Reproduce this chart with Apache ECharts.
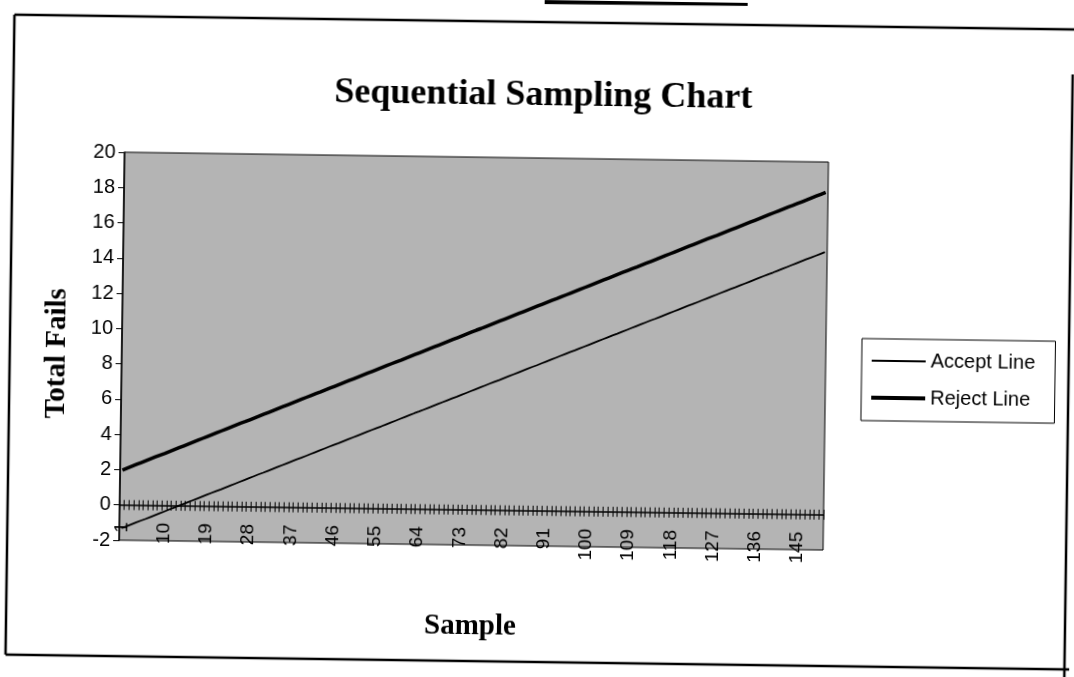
<!DOCTYPE html>
<html>
<head>
<meta charset="utf-8">
<title>Sequential Sampling Chart</title>
<script src="https://cdn.jsdelivr.net/npm/echarts@6/dist/echarts.min.js"></script>
<style>
  html, body { margin: 0; padding: 0; background: #fff; overflow: hidden; }
  /* the scanned page sits slightly turned */
  #chart { width: 1074px; height: 677px; transform: rotate(0.8deg); transform-origin: 537px 338px; }
</style>
</head>
<body>
<div id="chart"></div>
<script>
// sample numbers on the x axis
const samples = [
  1, 2, 3, 4, 5, 6, 7, 8, 9, 10, 11, 12, 13, 14, 15, 16, 17, 18, 19, 20,
  21, 22, 23, 24, 25, 26, 27, 28, 29, 30, 31, 32, 33, 34, 35, 36, 37, 38, 39, 40,
  41, 42, 43, 44, 45, 46, 47, 48, 49, 50, 51, 52, 53, 54, 55, 56, 57, 58, 59, 60,
  61, 62, 63, 64, 65, 66, 67, 68, 69, 70, 71, 72, 73, 74, 75, 76, 77, 78, 79, 80,
  81, 82, 83, 84, 85, 86, 87, 88, 89, 90, 91, 92, 93, 94, 95, 96, 97, 98, 99, 100,
  101, 102, 103, 104, 105, 106, 107, 108, 109, 110, 111, 112, 113, 114, 115, 116, 117, 118, 119, 120,
  121, 122, 123, 124, 125, 126, 127, 128, 129, 130, 131, 132, 133, 134, 135, 136, 137, 138, 139, 140,
  141, 142, 143, 144, 145, 146, 147, 148, 149, 150
];

// accept line
const acceptLine = [
  -1.32, -1.21, -1.10, -0.99, -0.88, -0.78, -0.67, -0.56, -0.45, -0.34,
  -0.23, -0.12, -0.01, 0.09, 0.20, 0.31, 0.42, 0.53, 0.64, 0.75,
  0.86, 0.96, 1.07, 1.18, 1.29, 1.40, 1.51, 1.62, 1.73, 1.84,
  1.94, 2.05, 2.16, 2.27, 2.38, 2.49, 2.60, 2.71, 2.81, 2.92,
  3.03, 3.14, 3.25, 3.36, 3.47, 3.58, 3.68, 3.79, 3.90, 4.01,
  4.12, 4.23, 4.34, 4.45, 4.56, 4.66, 4.77, 4.88, 4.99, 5.10,
  5.21, 5.32, 5.43, 5.53, 5.64, 5.75, 5.86, 5.97, 6.08, 6.19,
  6.30, 6.40, 6.51, 6.62, 6.73, 6.84, 6.95, 7.06, 7.17, 7.28,
  7.38, 7.49, 7.60, 7.71, 7.82, 7.93, 8.04, 8.15, 8.25, 8.36,
  8.47, 8.58, 8.69, 8.80, 8.91, 9.02, 9.12, 9.23, 9.34, 9.45,
  9.56, 9.67, 9.78, 9.89, 10.00, 10.10, 10.21, 10.32, 10.43, 10.54,
  10.65, 10.76, 10.87, 10.97, 11.08, 11.19, 11.30, 11.41, 11.52, 11.63,
  11.74, 11.84, 11.95, 12.06, 12.17, 12.28, 12.39, 12.50, 12.61, 12.72,
  12.82, 12.93, 13.04, 13.15, 13.26, 13.37, 13.48, 13.59, 13.69, 13.80,
  13.91, 14.02, 14.13, 14.24, 14.35, 14.46, 14.56, 14.67, 14.78, 14.89
];

// reject line
const rejectLine = [
  1.98, 2.09, 2.20, 2.31, 2.42, 2.53, 2.64, 2.75, 2.86, 2.96,
  3.07, 3.18, 3.29, 3.40, 3.51, 3.62, 3.73, 3.84, 3.95, 4.06,
  4.17, 4.28, 4.39, 4.50, 4.61, 4.72, 4.82, 4.93, 5.04, 5.15,
  5.26, 5.37, 5.48, 5.59, 5.70, 5.81, 5.92, 6.03, 6.14, 6.25,
  6.36, 6.47, 6.57, 6.68, 6.79, 6.90, 7.01, 7.12, 7.23, 7.34,
  7.45, 7.56, 7.67, 7.78, 7.89, 8.00, 8.11, 8.22, 8.33, 8.43,
  8.54, 8.65, 8.76, 8.87, 8.98, 9.09, 9.20, 9.31, 9.42, 9.53,
  9.64, 9.75, 9.86, 9.97, 10.08, 10.19, 10.29, 10.40, 10.51, 10.62,
  10.73, 10.84, 10.95, 11.06, 11.17, 11.28, 11.39, 11.50, 11.61, 11.72,
  11.83, 11.94, 12.04, 12.15, 12.26, 12.37, 12.48, 12.59, 12.70, 12.81,
  12.92, 13.03, 13.14, 13.25, 13.36, 13.47, 13.58, 13.69, 13.80, 13.90,
  14.01, 14.12, 14.23, 14.34, 14.45, 14.56, 14.67, 14.78, 14.89, 15.00,
  15.11, 15.22, 15.33, 15.44, 15.55, 15.66, 15.76, 15.87, 15.98, 16.09,
  16.20, 16.31, 16.42, 16.53, 16.64, 16.75, 16.86, 16.97, 17.08, 17.19,
  17.30, 17.41, 17.51, 17.62, 17.73, 17.84, 17.95, 18.06, 18.17, 18.28
];

// y axis range
const yMin = -2;
const yMax = 20;
const yStep = 2;

const chart = echarts.init(document.getElementById("chart"));

const sans = "'Liberation Sans', Arial, sans-serif";
const serif = "'Liberation Serif', 'Times New Roman', serif";
const plotBox = { left: 122, right: 248, top: 158, bottom: 131 };

chart.setOption({
  animation: false,
  backgroundColor: "#fff",
  title: {
    text: "Sequential Sampling Chart",
    left: 535,
    textAlign: "center",
    top: 73,
    textStyle: { fontFamily: serif, fontWeight: "bold", fontSize: 36, color: "#000" },
  },
  legend: {
    orient: "vertical",
    left: 862,
    top: 334,
    padding: [12, 20, 13, 8],
    itemWidth: 54,
    itemHeight: 14,
    itemGap: 17,
    borderColor: "#000",
    borderWidth: 1,
    itemStyle: { opacity: 0 },
    textStyle: { fontFamily: sans, fontSize: 20, color: "#000" },
    data: [
      { name: "Accept Line", lineStyle: { width: 1.8 } },
      { name: "Reject Line", lineStyle: { width: 4 } },
    ],
  },
  grid: [
    {
      ...plotBox,
      outerBoundsMode: "none",
      show: true,
      backgroundColor: "#b4b4b4",
      borderColor: "#000",
      borderWidth: 1,
    },
    // second grid on top, only for the inner half of the crossing ticks
    { ...plotBox, outerBoundsMode: "none", show: false },
  ],
  xAxis: [
    {
      type: "category",
      gridIndex: 0,
      data: samples,
      boundaryGap: true,
      name: "Sample",
      nameLocation: "middle",
      nameGap: 67,
      nameMoveOverlap: false,
      nameTextStyle: { fontFamily: serif, fontWeight: "bold", fontSize: 29, color: "#000" },
      axisLine: { show: true, onZero: true, lineStyle: { color: "#000", width: 1.5 } },
      axisTick: { show: true, interval: 0, length: 5, lineStyle: { color: "#000" } },
      axisLabel: {
        interval: 8,
        rotate: 90,
        margin: -18,
        fontFamily: sans,
        fontSize: 19,
        color: "#000",
      },
    },
    {
      type: "category",
      gridIndex: 1,
      data: samples,
      boundaryGap: true,
      axisLine: { show: false, onZero: true },
      axisTick: { show: true, inside: true, interval: 0, length: 5, lineStyle: { color: "#000" } },
      axisLabel: { show: false },
    },
  ],
  yAxis: [
    {
      type: "value",
      gridIndex: 0,
      min: yMin,
      max: yMax,
      interval: yStep,
      name: "Total Fails",
      nameLocation: "middle",
      nameGap: 50,
      nameMoveOverlap: false,
      nameTextStyle: {
        fontFamily: serif,
        fontWeight: "bold",
        fontSize: 29,
        color: "#000",
        padding: [0, 16, 0, 0],
      },
      axisLine: { show: true, onZero: false, lineStyle: { color: "#000", width: 1.5 } },
      axisTick: { show: true, length: 6, lineStyle: { color: "#000" } },
      axisLabel: { fontFamily: sans, fontSize: 20, color: "#000", margin: 9 },
      splitLine: { show: false },
    },
    {
      type: "value",
      gridIndex: 1,
      min: yMin,
      max: yMax,
      interval: yStep,
      show: false,
    },
  ],
  series: [
    {
      name: "Accept Line",
      type: "line",
      data: acceptLine,
      symbol: "none",
      lineStyle: { color: "#000", width: 1.8 },
      itemStyle: { color: "#000" },
    },
    {
      name: "Reject Line",
      type: "line",
      data: rejectLine,
      symbol: "none",
      lineStyle: { color: "#000", width: 3.5 },
      itemStyle: { color: "#000" },
    },
  ],
  // page frame of the scanned figure
  graphic: [
    { type: "line", shape: { x1: 10, y1: 22, x2: 1074, y2: 22 }, style: { stroke: "#000", lineWidth: 2.5 } },
    { type: "line", shape: { x1: 10, y1: 22, x2: 10, y2: 662 }, style: { stroke: "#000", lineWidth: 2.5 } },
    { type: "line", shape: { x1: 10, y1: 662, x2: 1074, y2: 662 }, style: { stroke: "#000", lineWidth: 2.5 } },
    { type: "line", shape: { x1: 1069, y1: 67, x2: 1069, y2: 677 }, style: { stroke: "#000", lineWidth: 2.5 } },
    { type: "line", shape: { x1: 540, y1: 2, x2: 743, y2: 1 }, style: { stroke: "#000", lineWidth: 4 } },
  ],
});
</script>
</body>
</html>
